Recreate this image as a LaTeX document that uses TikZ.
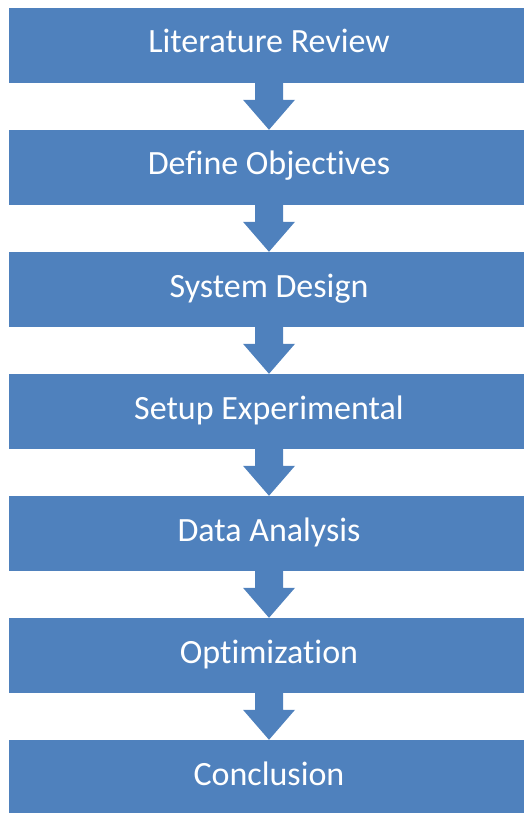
\documentclass[tikz,border=0pt]{standalone}
\usepackage{fontspec}
\setmainfont{Carlito}[Ligatures=NoCommon]
\usetikzlibrary{calc}

\definecolor{stepblue}{RGB}{79,129,189}

% one block arrow from the bottom of #1 to the top of #2
\newcommand{\steparrow}[2]{%
   \fill[stepblue] ($(#1.south)+(-14,0)$) -- ($(#1.south)+(14,0)$)
     -- ($(#2.north)+(14,30)$) -- ($(#2.north)+(26,30)$) -- (#2.north)
     -- ($(#2.north)+(-26,30)$) -- ($(#2.north)+(-14,30)$) -- cycle;}

\begin{document}
\begin{tikzpicture}[x=1pt,y=1pt,
   stepbox/.style={fill=stepblue,text=white,minimum width=520pt,
     minimum height=75pt,inner sep=0pt,text height=22pt,text depth=7pt,
     font=\fontsize{34}{38}\selectfont}]
   \useasboundingbox (0,0) rectangle (523,-813);
   \foreach \name [count=\i] in {Literature Review,Define Objectives,
       System Design,Setup Experimental,Data Analysis,Optimization,Conclusion}
     \node[stepbox] (s\i) at (269,{-45.5-122*(\i-1)}) {\name};
   \foreach \i [evaluate=\i as \j using int(\i+1)] in {1,...,6}
     \steparrow{s\i}{s\j};
\end{tikzpicture}
\end{document}
